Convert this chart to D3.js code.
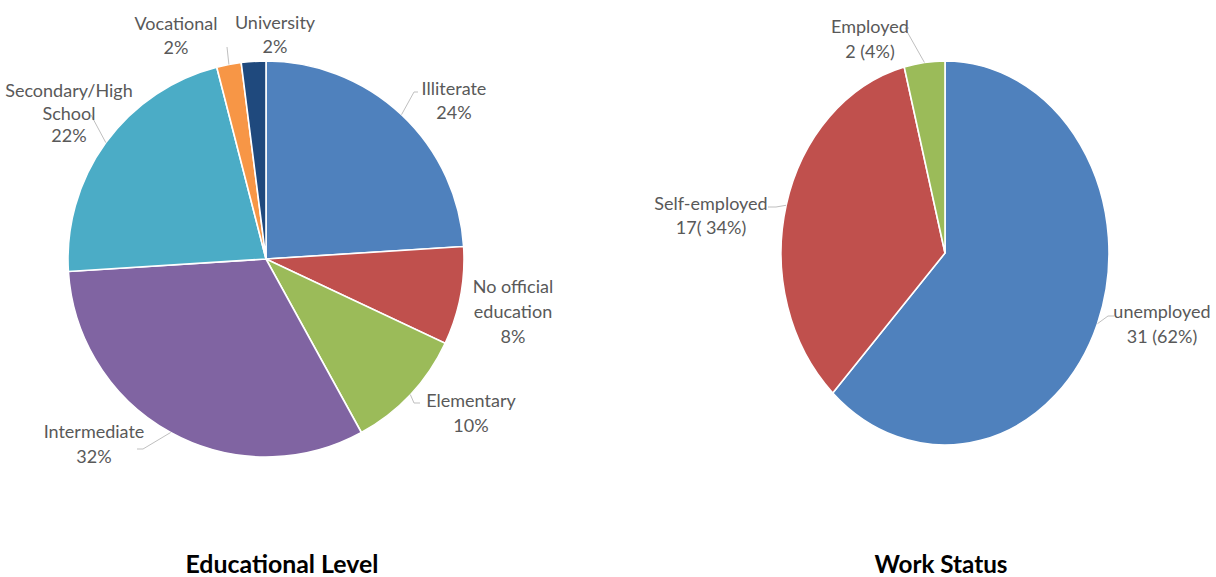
<!DOCTYPE html>
<html>
<head>
<meta charset="utf-8">
<script src="https://cdn.jsdelivr.net/npm/d3@7"></script>
<style>
  html, body { margin: 0; padding: 0; background: #ffffff; }
  svg text { font-family: "Lato", "Open Sans", sans-serif; }
</style>
</head>
<body>
<svg id="chart" width="1216" height="577"></svg>
<script>
// Educational level of respondents (percent)
const eduCategories = ["Illiterate", "No official education", "Elementary", "Intermediate", "Secondary/High School", "Vocational", "University"];
const eduValues = [24, 8, 10, 32, 22, 2, 2];
const eduLabelLines = [["Illiterate", "24%"], ["No official", "education", "8%"], ["Elementary", "10%"], ["Intermediate", "32%"], ["Secondary/High", "School", "22%"], ["Vocational", "2%"], ["University", "2%"]];
const eduColors = ["#4f81bd", "#c0504d", "#9bbb59", "#8064a2", "#4bacc6", "#f79646", "#1f497d"];

// Work status of respondents (counts)
const workCategories = ["unemployed", "Self-employed", "Employed"];
const workValues = [31, 17, 2];
const workLabelLines = [["unemployed", "31 (62%)"], ["Self-employed", "17( 34%)"], ["Employed", "2 (4%)"]];
const workColors = ["#4f81bd", "#c0504d", "#9bbb59"];

// Label placement: text centre x, first baseline y, line step, optional leader points
const eduLayout = [
  { x: 454, y: 95, step: 24, leader: [[414, 92], [418, 92]] },
  { x: 513, y: 293, step: 25, leader: null },
  { x: 471, y: 407, step: 25, leader: [[414, 403], [420, 403]] },
  { x: 94, y: 438, step: 25, leader: [[143, 449], [137, 449]] },
  { x: 69, y: 97, step: 22.5, leader: [[91, 115]] },
  { x: 176, y: 30, step: 24, leader: [[227, 47]] },
  { x: 275, y: 29, step: 24, leader: null }
];
const workLayout = [
  { x: 1162, y: 318, step: 25, leader: [[1108, 316], [1114, 316]] },
  { x: 711, y: 210, step: 24, leader: [[776, 207], [768, 207]] },
  { x: 870, y: 33, step: 25, leader: [[905, 28], [909, 28]] }
];

const svg = d3.select("#chart");

function drawPie(cfg) {
  const pie = d3.pie().sort(null).value(d => d)(cfg.values);
  const arc = d3.arc().innerRadius(0).outerRadius(cfg.r);
  const sx = cfg.rx / cfg.r;

  const g = svg.append("g").attr("transform", `translate(${cfg.cx},${cfg.cy})`);
  g.append("g")
    .attr("transform", `scale(${sx},1)`)
    .selectAll("path")
    .data(pie)
    .join("path")
    .attr("d", arc)
    .attr("fill", (d, i) => cfg.colors[i])
    .attr("stroke", "#ffffff")
    .attr("stroke-width", 1.6)
    .attr("vector-effect", "non-scaling-stroke");

  // Leader lines from the slice edge to the label
  pie.forEach((d, i) => {
    const lay = cfg.layout[i];
    if (!lay.leader) return;
    const mid = (d.startAngle + d.endAngle) / 2;
    const p0 = [cfg.cx + cfg.rx * Math.sin(mid), cfg.cy - cfg.r * Math.cos(mid)];
    const pts = [p0].concat(lay.leader);
    svg.append("path")
      .attr("d", d3.line()(pts))
      .attr("fill", "none")
      .attr("stroke", "#bfbfbf")
      .attr("stroke-width", 1);
  });

  // Category labels
  cfg.lines.forEach((lines, i) => {
    const lay = cfg.layout[i];
    const t = svg.append("text")
      .attr("text-anchor", "middle")
      .attr("font-size", 18)
      .attr("fill", "#595959");
    lines.forEach((s, k) => {
      t.append("tspan").attr("x", lay.x).attr("y", lay.y + k * lay.step).text(s);
    });
  });

  svg.append("text")
    .attr("x", cfg.titleX)
    .attr("y", 573)
    .attr("text-anchor", "middle")
    .attr("font-size", 24)
    .attr("font-weight", "bold")
    .attr("fill", "#000000")
    .attr("textLength", cfg.titleWidth)
    .attr("lengthAdjust", "spacingAndGlyphs")
    .text(cfg.title);
}

drawPie({ values: eduValues, colors: eduColors, lines: eduLabelLines, layout: eduLayout,
  cx: 266, cy: 259, r: 198, rx: 198, title: "Educational Level", titleX: 282, titleWidth: 193 });
drawPie({ values: workValues, colors: workColors, lines: workLabelLines, layout: workLayout,
  cx: 945, cy: 253, r: 192, rx: 164, title: "Work Status", titleX: 941, titleWidth: 133 });
</script>
</body>
</html>
